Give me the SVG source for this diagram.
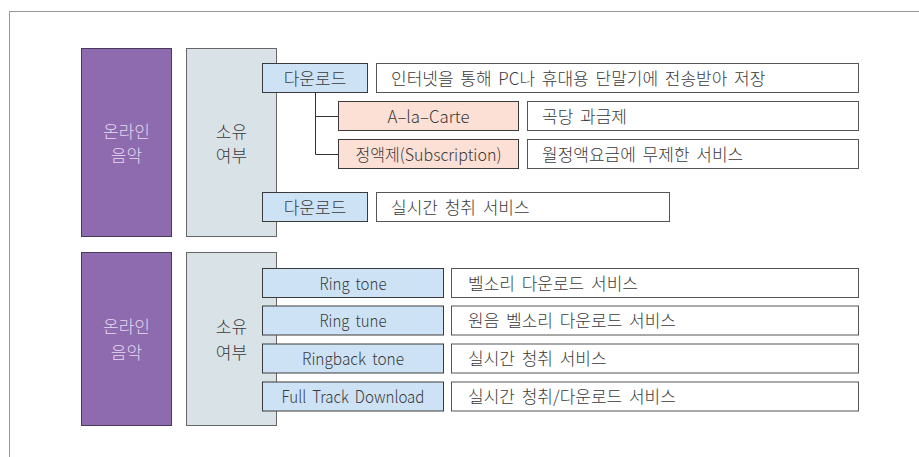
<svg xmlns="http://www.w3.org/2000/svg" width="919" height="457" viewBox="0 0 919 457">
<style>
text{font-family:"Noto Sans CJK KR","Liberation Sans",sans-serif;font-size:17px;font-weight:300;fill:#3a3a3a;word-spacing:3px}
.cat{fill:#8e6aae;stroke:#4a3a5a;stroke-width:1}
.own{fill:#d9e3e7;stroke:#666;stroke-width:1}
.blue{fill:#cde3f5;stroke:#3a3a3a;stroke-width:1}
.sal{fill:#fde0d5;stroke:#3a3a3a;stroke-width:1}
.wht{fill:#fff;stroke:#555;stroke-width:1}
.lt{fill:#e6daf0}
.c{text-anchor:middle}
.conn{fill:none;stroke:#333;stroke-width:1}
</style>
<rect x="0" y="0" width="919" height="457" fill="#fff"/>
<rect id="frame" x="9.5" y="11.5" width="920" height="460" fill="none" stroke="#999" stroke-width="1"/>
<g id="connectors">
<path class="conn" d="M315.5 93V154.5H338M315.5 116.5H338"/>
</g>
<g id="cat1"><rect class="cat" x="81.5" y="48.5" width="90" height="188"/><text class="lt c" x="126.5" y="138">온라인</text><text class="lt c" x="126.5" y="161.5">음악</text></g>
<g id="own1"><rect class="own" x="186.5" y="48.5" width="90" height="188"/><text class="c" x="231.5" y="138">소유</text><text class="c" x="231.5" y="161.5">여부</text></g>
<g id="dl1"><rect class="blue" x="262.5" y="63.5" width="105" height="29"/><text class="c" x="315" y="84.5">다운로드</text></g>
<g id="dl1d"><rect class="wht" x="376.5" y="63.5" width="482" height="29"/><text x="391" y="84.5">인터넷을 통해 PC나 휴대용 단말기에 전송받아 저장</text></g>
<g id="alc"><rect class="sal" x="338.5" y="101.5" width="180" height="29"/><text class="c" x="428.5" y="122.5" textLength="82" lengthAdjust="spacingAndGlyphs">A–la–Carte</text></g>
<g id="alcd"><rect class="wht" x="527.5" y="101.5" width="331" height="29"/><text x="542" y="122.5">곡당 과금제</text></g>
<g id="sub"><rect class="sal" x="338.5" y="139.5" width="180" height="29"/><text class="c" x="428.5" y="160.5" textLength="146" lengthAdjust="spacingAndGlyphs">정액제(Subscription)</text></g>
<g id="subd"><rect class="wht" x="527.5" y="139.5" width="331" height="29"/><text x="542" y="160.5">월정액요금에 무제한 서비스</text></g>
<g id="dl2"><rect class="blue" x="262.5" y="192.5" width="105" height="29"/><text class="c" x="315" y="213.5">다운로드</text></g>
<g id="dl2d"><rect class="wht" x="376.5" y="192.5" width="293" height="29"/><text x="391" y="213.5">실시간 청취 서비스</text></g>
<g id="cat2"><rect class="cat" x="81.5" y="252.5" width="90" height="173"/><text class="lt c" x="126.5" y="333">온라인</text><text class="lt c" x="126.5" y="359">음악</text></g>
<g id="own2"><rect class="own" x="186.5" y="252.5" width="90" height="173"/><text class="c" x="231.5" y="333">소유</text><text class="c" x="231.5" y="359">여부</text></g>
<g id="rt"><rect class="blue" x="262.5" y="268.5" width="181" height="29"/><text class="c" x="353" y="289.5" textLength="67" lengthAdjust="spacingAndGlyphs">Ring tone</text></g>
<g id="rtd"><rect class="wht" x="451.5" y="268.5" width="407" height="29"/><text x="468" y="289.5">벨소리 다운로드 서비스</text></g>
<g id="rtu"><rect class="blue" x="262.5" y="306" width="181" height="29"/><text class="c" x="353" y="327" textLength="67" lengthAdjust="spacingAndGlyphs">Ring tune</text></g>
<g id="rtud"><rect class="wht" x="451.5" y="306" width="407" height="29"/><text x="468" y="327">원음 벨소리 다운로드 서비스</text></g>
<g id="rb"><rect class="blue" x="262.5" y="344" width="181" height="29"/><text class="c" x="353" y="365" textLength="102" lengthAdjust="spacingAndGlyphs">Ringback tone</text></g>
<g id="rbd"><rect class="wht" x="451.5" y="344" width="407" height="29"/><text x="468" y="365">실시간 청취 서비스</text></g>
<g id="ft"><rect class="blue" x="262.5" y="382" width="181" height="29"/><text class="c" x="353" y="403" textLength="143" lengthAdjust="spacingAndGlyphs">Full Track Download</text></g>
<g id="ftd"><rect class="wht" x="451.5" y="382" width="407" height="29"/><text x="468" y="403">실시간 청취/다운로드 서비스</text></g>
</svg>
